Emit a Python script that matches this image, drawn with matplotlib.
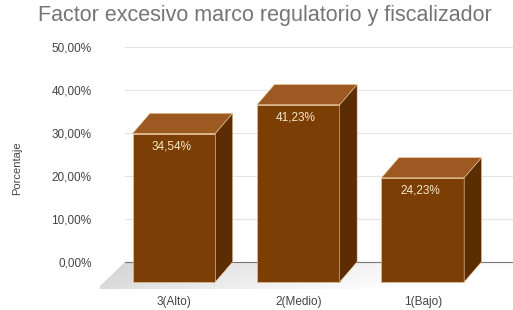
import matplotlib
matplotlib.use("Agg")
import numpy as np
import matplotlib.pyplot as plt
from matplotlib.patches import Polygon

categories = ["3(Alto)", "2(Medio)", "1(Bajo)"]
values = [34.54, 41.23, 24.23]
value_labels = ["34,54%", "41,23%", "24,23%"]
ticks = [0, 10, 20, 30, 40, 50]
tick_labels = ["0,00%", "10,00%", "20,00%", "30,00%", "40,00%", "50,00%"]

FRONT = "#7b3f06"
TOP = "#9c5a22"
SIDE = "#5c2c02"
EDGE = "#f0c89a"
FONT = "Liberation Sans"
W = 0.665     # bar width (category units)
DX = 0.14     # depth offset, x
DY = 4.7      # depth offset, y (percent units)

fig = plt.figure(figsize=(5.13, 3.10), dpi=100)
ax = fig.add_axes([100 / 513, 20 / 310, 413 / 513, 250 / 310])
ax.set_xlim(-0.594, 2.725)
ax.set_ylim(-1.86, 56.3)

# floor: light grey, darker at the left, fading to white on the right
xl, xr, xb = -0.62, 2.75, -0.39
floor = Polygon([(xl, -1.6), (xr, -1.6), (xr, DY), (xb, DY)],
                closed=True, facecolor="none", edgecolor="none")
ax.add_patch(floor)
gx = np.linspace(0, 1, 256)[None, :]
gy = np.linspace(0, 1, 32)[:, None]
shade = 0.80 + 0.19 * gx ** 0.6 + 0.04 * (1 - gy)
shade = np.clip(shade, 0, 1)
rgb = np.dstack([shade, shade, shade])
im = ax.imshow(rgb, extent=(xl, xr, -1.6, DY), aspect="auto",
               origin="lower", zorder=0, interpolation="bilinear")
im.set_clip_path(floor)

# back wall gridlines
for t in ticks:
    ax.plot([xb, 2.725], [t + DY, t + DY],
            color="#777777" if t == 0 else "#e4e4e4",
            lw=0.8, zorder=1)

xs = list(range(len(categories)))
ax.bar(xs, values, width=W, color=FRONT, edgecolor=EDGE, linewidth=0.4, zorder=3)
for x, v in zip(xs, values):
    l, r = x - W / 2, x + W / 2
    ax.add_patch(Polygon([(l, v), (l + DX, v + DY), (r + DX, v + DY), (r, v)],
                         closed=True, facecolor=TOP, edgecolor=EDGE, lw=0.4, zorder=3))
    ax.add_patch(Polygon([(r, 0), (r + DX, DY), (r + DX, v + DY), (r, v)],
                         closed=True, facecolor=SIDE, edgecolor=EDGE, lw=0.4, zorder=3))

for x, v, lab in zip(xs, values, value_labels):
    ax.text(x - 0.02, v - 3.0, lab, ha="center", va="center",
            fontsize=8.5, color="#f5e6c8", family=FONT, zorder=4)

ax.set_yticks([t + DY for t in ticks])
ax.set_yticklabels(tick_labels)
ax.set_xticks(xs)
ax.set_xticklabels(categories)
ax.tick_params(length=0, labelsize=8.5, colors="#444444")
ax.tick_params(axis="y", pad=6)
ax.tick_params(axis="x", pad=4)
for lbl in ax.get_xticklabels() + ax.get_yticklabels():
    lbl.set_family(FONT)
for s in ax.spines.values():
    s.set_visible(False)

fig.text(17 / 513, 1 - 168 / 310, "Porcentaje", rotation=90, ha="center", va="center",
         fontsize=8, color="#444444", family=FONT)
fig.text(265 / 513, 1 - 15 / 310, "Factor excesivo marco regulatorio y fiscalizador",
         ha="center", va="center", fontsize=15.5, color="#757575", family=FONT)

fig.savefig("out.png", dpi=100)
